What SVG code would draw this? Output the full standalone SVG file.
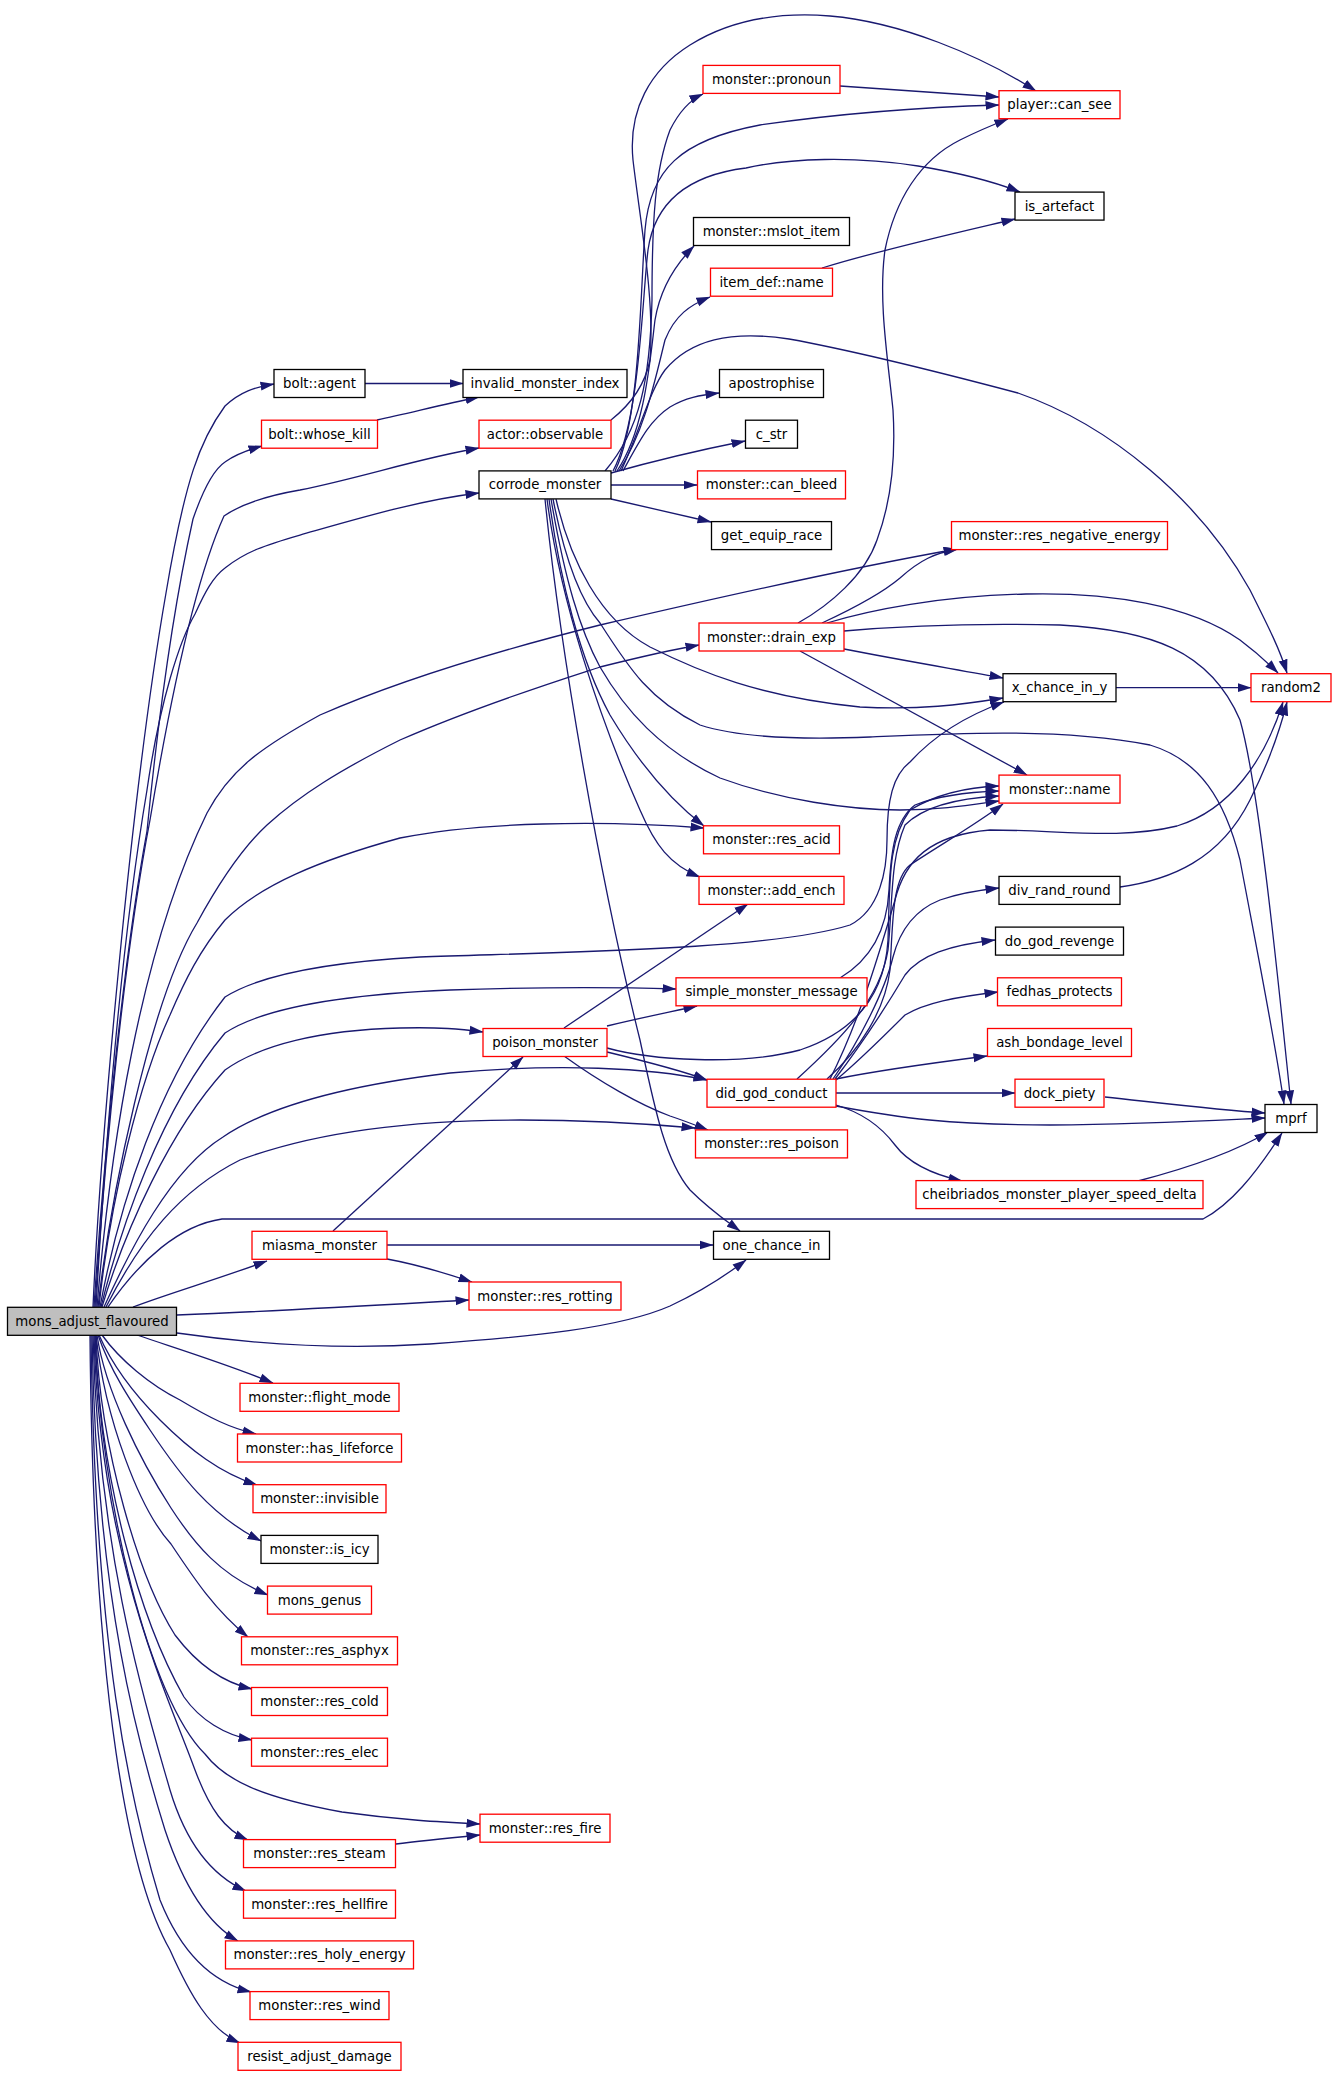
<svg xmlns="http://www.w3.org/2000/svg" width="1336" height="2073" viewBox="0 0 1336 2073">
<style>
.n rect{fill:#fff;stroke:#000;stroke-width:1.3}
.n.r rect{stroke:#f00}
.n.g rect{fill:#bfbfbf}
.n text{font-family:"DejaVu Sans","Liberation Sans",sans-serif;font-size:13.3px;text-anchor:middle;fill:#000}
#edges path{fill:none;stroke:#191970;stroke-width:1.3;marker-end:url(#a)}
</style>
<defs>
<marker id="a" markerUnits="userSpaceOnUse" markerWidth="14" markerHeight="10" viewBox="0 0 14 10" refX="13.5" refY="5" orient="auto">
<path d="M0,0.5 L14,5 L0,9.5 Z" fill="#191970"/>
</marker>
</defs>
<rect width="1336" height="2073" fill="#fff"/>
<g id="edges">
<!-- mons_adjust_flavoured top fan -->
<path d="M93,1307 C100,1150 130,800 166,593 C185,480 200,440 225,406 C240,392 255,387 274,384"/>
<path d="M94,1307 C104,1150 125,950 147,831 C160,700 175,600 193,519 C203,490 213,470 225,462 C236,454 248,450 262,446"/>
<path d="M95,1307 C105,1150 125,950 150,820 C170,700 195,580 224,516 C240,505 265,496 300,490 C360,478 420,458 479,448"/>
<path d="M96,1307 C105,1150 120,950 147,790 C160,700 180,640 195,614 C205,592 213,577 225,568 C245,552 265,545 300,535 C360,518 420,500 479,493"/>
<path d="M97,1307 C110,1150 140,950 207,813 C230,770 260,748 320,715 C400,680 500,650 600,625 C720,597 850,568 957,549"/>
<path d="M98,1307 C110,1200 150,1000 197,923 C215,890 240,850 267,825 C300,795 340,770 400,740 C480,705 560,680 600,667 C640,657 670,650 699,645"/>
<path d="M99,1307 C110,1200 140,1080 170,1015 C185,980 200,950 225,920 C260,885 320,860 400,838 C480,822 600,820 704,828"/>
<path d="M100,1307 C120,1200 160,1080 225,997 C260,975 330,962 420,957 C560,952 770,950 850,925 C880,910 887,870 887,840 C887,800 893,775 910,762 C930,740 960,718 1004,702"/>
<path d="M101,1307 C120,1230 160,1110 225,1033 C260,1010 330,995 450,990 C540,987 610,987 676,989"/>
<path d="M102,1307 C125,1230 170,1130 225,1070 C260,1045 320,1030 400,1028 C440,1027 460,1029 483,1032"/>
<path d="M104,1307 C130,1250 170,1170 223,1137 C270,1105 350,1085 450,1073 C560,1063 650,1068 707,1080"/>
<path d="M106,1307 C140,1240 180,1190 240,1160 C320,1130 420,1120 520,1120 C600,1120 650,1124 695,1128"/>
<path d="M108,1307 C140,1260 180,1225 222,1219 L1203,1219 C1230,1205 1255,1175 1282,1133"/>
<path d="M133,1307 C170,1293 215,1280 267,1261"/>
<path d="M177,1315 C280,1311 380,1305 469,1300"/>
<path d="M177,1333 C260,1345 340,1350 430,1344 C530,1337 620,1328 670,1306 C700,1292 725,1276 746,1260"/>
<!-- mons_adjust_flavoured bottom fan -->
<path d="M137,1335 C175,1348 230,1365 273,1383"/>
<path d="M102,1335 C120,1360 150,1385 180,1400 C210,1418 230,1428 256,1434"/>
<path d="M99,1335 C110,1360 130,1390 160,1420 C190,1450 220,1473 257,1485"/>
<path d="M98,1335 C110,1370 130,1400 150,1430 C180,1475 210,1515 261,1541"/>
<path d="M97,1335 C105,1390 140,1460 171,1508 C195,1545 220,1575 268,1595"/>
<path d="M96,1335 C105,1420 140,1510 171,1544 C195,1580 215,1610 248,1637"/>
<path d="M96,1335 C100,1450 140,1580 175,1635 C200,1668 225,1683 252,1689"/>
<path d="M95,1335 C100,1480 140,1620 184,1697 C200,1720 225,1735 252,1740"/>
<path d="M95,1335 C100,1500 150,1700 205,1754 C225,1780 260,1797 342,1812 C400,1820 440,1822 480,1824"/>
<path d="M94,1335 C100,1560 170,1700 195,1770 C210,1810 225,1830 248,1840"/>
<path d="M93,1335 C98,1560 150,1720 170,1790 C185,1840 210,1875 246,1891"/>
<path d="M92,1335 C96,1600 140,1750 165,1830 C185,1890 210,1925 238,1941"/>
<path d="M91,1335 C95,1650 130,1800 160,1900 C180,1950 210,1982 251,1992"/>
<path d="M90,1335 C93,1700 130,1880 170,1950 C190,1995 210,2030 240,2043"/>
<!-- bolt -->
<path d="M365,383.5 L463,383.5"/>
<path d="M377,420 C410,413 440,405 479,397"/>
<!-- actor::observable -> player::can_see -->
<path d="M611,420 C630,405 645,385 650,360 C655,300 640,220 633,160 C628,110 650,70 690,45 C730,20 780,12 830,16 C900,22 980,55 1036,91"/>
<!-- corrode_monster -->
<path d="M605,471 C640,430 650,380 652,300 C652,220 655,170 670,130 C680,110 690,100 703,94"/>
<path d="M615,471 C640,420 640,300 645,230 C650,170 680,140 760,125 C850,112 930,107 999,105"/>
<path d="M613,471 C640,420 642,300 648,250 C655,200 690,175 746,168 C790,158 854,156 918,166 C960,173 990,180 1020,192"/>
<path d="M617,471 C645,430 650,360 655,320 C660,290 675,265 694,246"/>
<path d="M619,471 C645,430 655,380 665,340 C675,315 690,305 710,297"/>
<path d="M621,471 C640,430 650,390 665,370 C690,340 730,330 789,339 C850,350 950,375 1018,393 C1110,425 1200,500 1250,590 C1270,630 1280,650 1287,673"/>
<path d="M623,471 C640,440 650,420 670,407 C685,398 700,395 719,393"/>
<path d="M611,473 C650,462 700,450 745,441"/>
<path d="M611,485 L697,485"/>
<path d="M611,499 L711,522"/>
<path d="M556,499 C570,560 600,620 650,647 C700,672 760,697 860,707 C920,710 960,705 1003,698"/>
<path d="M553,499 C565,560 580,600 600,623 C630,670 650,700 700,725 C740,738 800,740 870,737 C960,733 1060,728 1150,745 C1200,760 1225,800 1240,860 C1255,940 1275,1040 1284,1104"/>
<path d="M551,499 C565,580 580,630 600,667 C625,710 660,750 720,778 C780,800 850,810 900,810 C940,810 970,805 999,801"/>
<path d="M549,499 C560,580 580,660 610,715 C640,765 670,800 704,826"/>
<path d="M547,499 C560,600 600,720 640,810 C655,845 670,865 700,877"/>
<path d="M545,499 C560,650 600,880 640,1040 C655,1110 665,1160 690,1190 C710,1210 725,1220 740,1231"/>
<!-- item_def::name, pronoun -->
<path d="M822,268 C880,250 960,232 1015,219"/>
<path d="M840,86 C900,90 960,94 999,97"/>
<!-- monster::drain_exp -->
<path d="M822,623 C850,610 880,595 900,578 C920,560 935,553 958,549"/>
<path d="M798,623 C830,605 865,575 877,540 C890,505 896,460 893,410 C888,360 878,300 885,250 C895,200 920,160 960,140 C980,130 995,124 1008,119"/>
<path d="M827,623 C870,610 940,596 1026,594 C1110,592 1190,605 1240,640 C1260,655 1270,665 1278,673"/>
<path d="M844,631 C900,626 980,623 1060,625 C1150,630 1210,650 1240,720 C1260,790 1280,1000 1291,1104"/>
<path d="M844,649 C900,660 960,670 1003,678"/>
<path d="M800,651 L1027,775"/>
<!-- x_chance_in_y, div_rand_round -->
<path d="M1116,687.7 L1251,687.7"/>
<path d="M1120,887 C1170,880 1220,860 1250,800 C1270,760 1280,730 1287,702"/>
<!-- simple_monster_message, poison_monster -->
<path d="M840,978 C870,960 887,930 889,890 C891,850 895,820 915,805 C940,795 970,792 999,791"/>
<path d="M564,1028 L748,904"/>
<path d="M607,1026 C640,1018 670,1012 697,1006"/>
<path d="M607,1052 C640,1060 680,1070 707,1080"/>
<path d="M564,1056 C600,1082 640,1105 670,1116 C685,1121 695,1125 708,1130"/>
<path d="M607,1048 C650,1060 740,1066 800,1050 C860,1030 885,990 888,940 C890,880 888,840 910,810 C940,792 970,787 999,786"/>
<!-- did_god_conduct -->
<path d="M797,1079 C840,1040 880,1000 888,950 C893,900 890,860 905,825 C925,805 960,798 999,796"/>
<path d="M827,1079 C860,1050 885,1010 890,970 C893,920 892,880 910,865 C940,845 975,825 1003,804"/>
<path d="M830,1079 C860,1020 880,950 895,900 C905,860 930,835 990,830 C1060,830 1120,840 1177,826 C1230,810 1265,760 1283,702"/>
<path d="M833,1079 C860,1040 885,990 893,957 C900,930 915,910 940,900 C960,893 980,890 999,888"/>
<path d="M835,1079 C865,1040 890,1000 905,975 C920,955 950,945 995,940"/>
<path d="M836,1080 C860,1060 885,1035 905,1015 C925,1003 955,997 998,992"/>
<path d="M836,1079 C880,1070 940,1062 987,1056"/>
<path d="M836,1093 L1015,1093"/>
<path d="M836,1106 C900,1118 950,1125 1050,1125 C1150,1124 1220,1120 1265,1118"/>
<path d="M836,1105 C860,1112 880,1125 895,1145 C910,1165 935,1175 962,1181"/>
<!-- dock_piety, cheibriados -->
<path d="M1105,1097 C1170,1104 1220,1110 1265,1113"/>
<path d="M1138,1181 C1180,1170 1230,1155 1268,1132"/>
<!-- miasma_monster -->
<path d="M333,1231 L523,1057"/>
<path d="M387,1245 L713,1245"/>
<path d="M387,1259 C420,1265 445,1273 472,1282"/>
<!-- res_steam -->
<path d="M396,1844 C420,1841 450,1838 480,1835"/>
</g>
<g id="node-pronoun" class="n r"><rect x="703" y="65.4" width="137" height="28"/><text x="771.5" y="83.9">monster::pronoun</text></g>
<g id="node-can_see" class="n r"><rect x="999" y="90.7" width="121" height="28"/><text x="1059.5" y="109.2">player::can_see</text></g>
<g id="node-is_artefact" class="n"><rect x="1015" y="192.1" width="89" height="28"/><text x="1059.5" y="210.6">is_artefact</text></g>
<g id="node-mslot_item" class="n"><rect x="693.5" y="217.5" width="156" height="28"/><text x="771.5" y="236">monster::mslot_item</text></g>
<g id="node-item_def_name" class="n r"><rect x="710.5" y="268.2" width="122" height="28"/><text x="771.5" y="286.7">item_def::name</text></g>
<g id="node-bolt_agent" class="n"><rect x="274" y="369.5" width="91" height="28"/><text x="319.5" y="388">bolt::agent</text></g>
<g id="node-invalid_monster_index" class="n"><rect x="463" y="369.5" width="164" height="28"/><text x="545" y="388">invalid_monster_index</text></g>
<g id="node-apostrophise" class="n"><rect x="719.5" y="369.5" width="104" height="28"/><text x="771.5" y="388">apostrophise</text></g>
<g id="node-whose_kill" class="n r"><rect x="261.5" y="420.2" width="116" height="28"/><text x="319.5" y="438.7">bolt::whose_kill</text></g>
<g id="node-observable" class="n r"><rect x="479" y="420.2" width="132" height="28"/><text x="545" y="438.7">actor::observable</text></g>
<g id="node-c_str" class="n"><rect x="745.5" y="420.2" width="52" height="28"/><text x="771.5" y="438.7">c_str</text></g>
<g id="node-corrode_monster" class="n"><rect x="479" y="470.9" width="132" height="28"/><text x="545" y="489.4">corrode_monster</text></g>
<g id="node-can_bleed" class="n r"><rect x="697.5" y="470.9" width="148" height="28"/><text x="771.5" y="489.4">monster::can_bleed</text></g>
<g id="node-get_equip_race" class="n"><rect x="711.5" y="521.6" width="120" height="28"/><text x="771.5" y="540.1">get_equip_race</text></g>
<g id="node-res_negative_energy" class="n r"><rect x="951.5" y="521.6" width="216" height="28"/><text x="1059.5" y="540.1">monster::res_negative_energy</text></g>
<g id="node-drain_exp" class="n r"><rect x="699" y="623" width="145" height="28"/><text x="771.5" y="641.5">monster::drain_exp</text></g>
<g id="node-x_chance_in_y" class="n"><rect x="1003" y="673.7" width="113" height="28"/><text x="1059.5" y="692.2">x_chance_in_y</text></g>
<g id="node-random2" class="n r"><rect x="1251" y="673.7" width="80" height="28"/><text x="1291" y="692.2">random2</text></g>
<g id="node-name" class="n r"><rect x="999" y="775.1" width="121" height="28"/><text x="1059.5" y="793.6">monster::name</text></g>
<g id="node-res_acid" class="n r"><rect x="703.5" y="825.8" width="136" height="28"/><text x="771.5" y="844.3">monster::res_acid</text></g>
<g id="node-add_ench" class="n r"><rect x="699" y="876.4" width="145" height="28"/><text x="771.5" y="894.9">monster::add_ench</text></g>
<g id="node-div_rand_round" class="n"><rect x="999" y="876.4" width="121" height="28"/><text x="1059.5" y="894.9">div_rand_round</text></g>
<g id="node-do_god_revenge" class="n"><rect x="995.5" y="927.1" width="128" height="28"/><text x="1059.5" y="945.6">do_god_revenge</text></g>
<g id="node-simple_monster_message" class="n r"><rect x="676" y="977.8" width="191" height="28"/><text x="771.5" y="996.3">simple_monster_message</text></g>
<g id="node-fedhas_protects" class="n r"><rect x="997.5" y="977.8" width="124" height="28"/><text x="1059.5" y="996.3">fedhas_protects</text></g>
<g id="node-poison_monster" class="n r"><rect x="483" y="1028.5" width="124" height="28"/><text x="545" y="1047">poison_monster</text></g>
<g id="node-ash_bondage_level" class="n r"><rect x="987.5" y="1028.5" width="144" height="28"/><text x="1059.5" y="1047">ash_bondage_level</text></g>
<g id="node-did_god_conduct" class="n r"><rect x="707" y="1079.2" width="129" height="28"/><text x="771.5" y="1097.7">did_god_conduct</text></g>
<g id="node-dock_piety" class="n r"><rect x="1015" y="1079.2" width="89" height="28"/><text x="1059.5" y="1097.7">dock_piety</text></g>
<g id="node-mprf" class="n"><rect x="1265" y="1104.5" width="52" height="28"/><text x="1291" y="1123">mprf</text></g>
<g id="node-res_poison" class="n r"><rect x="695.5" y="1129.9" width="152" height="28"/><text x="771.5" y="1148.4">monster::res_poison</text></g>
<g id="node-cheibriados" class="n r"><rect x="916" y="1180.6" width="287" height="28"/><text x="1059.5" y="1199.1">cheibriados_monster_player_speed_delta</text></g>
<g id="node-miasma_monster" class="n r"><rect x="252" y="1231.3" width="135" height="28"/><text x="319.5" y="1249.8">miasma_monster</text></g>
<g id="node-one_chance_in" class="n"><rect x="713.5" y="1231.3" width="116" height="28"/><text x="771.5" y="1249.8">one_chance_in</text></g>
<g id="node-res_rotting" class="n r"><rect x="469" y="1282" width="152" height="28"/><text x="545" y="1300.5">monster::res_rotting</text></g>
<g id="node-mons_adjust_flavoured" class="n g"><rect x="7.5" y="1307.3" width="169" height="28"/><text x="92" y="1325.8">mons_adjust_flavoured</text></g>
<g id="node-flight_mode" class="n r"><rect x="240" y="1383.3" width="159" height="28"/><text x="319.5" y="1401.8">monster::flight_mode</text></g>
<g id="node-has_lifeforce" class="n r"><rect x="237.5" y="1434" width="164" height="28"/><text x="319.5" y="1452.5">monster::has_lifeforce</text></g>
<g id="node-invisible" class="n r"><rect x="253" y="1484.7" width="133" height="28"/><text x="319.5" y="1503.2">monster::invisible</text></g>
<g id="node-is_icy" class="n"><rect x="261" y="1535.4" width="117" height="28"/><text x="319.5" y="1553.9">monster::is_icy</text></g>
<g id="node-mons_genus" class="n r"><rect x="267.5" y="1586.1" width="104" height="28"/><text x="319.5" y="1604.6">mons_genus</text></g>
<g id="node-res_asphyx" class="n r"><rect x="241.5" y="1636.8" width="156" height="28"/><text x="319.5" y="1655.3">monster::res_asphyx</text></g>
<g id="node-res_cold" class="n r"><rect x="251.5" y="1687.5" width="136" height="28"/><text x="319.5" y="1706">monster::res_cold</text></g>
<g id="node-res_elec" class="n r"><rect x="251.5" y="1738.2" width="136" height="28"/><text x="319.5" y="1756.7">monster::res_elec</text></g>
<g id="node-res_fire" class="n r"><rect x="480" y="1814.2" width="130" height="28"/><text x="545" y="1832.7">monster::res_fire</text></g>
<g id="node-res_steam" class="n r"><rect x="243.5" y="1839.6" width="152" height="28"/><text x="319.5" y="1858.1">monster::res_steam</text></g>
<g id="node-res_hellfire" class="n r"><rect x="243.5" y="1890.2" width="152" height="28"/><text x="319.5" y="1908.7">monster::res_hellfire</text></g>
<g id="node-res_holy_energy" class="n r"><rect x="225.5" y="1940.9" width="188" height="28"/><text x="319.5" y="1959.4">monster::res_holy_energy</text></g>
<g id="node-res_wind" class="n r"><rect x="250" y="1991.6" width="139" height="28"/><text x="319.5" y="2010.1">monster::res_wind</text></g>
<g id="node-resist_adjust_damage" class="n r"><rect x="238" y="2042.3" width="163" height="28"/><text x="319.5" y="2060.8">resist_adjust_damage</text></g>
</svg>
